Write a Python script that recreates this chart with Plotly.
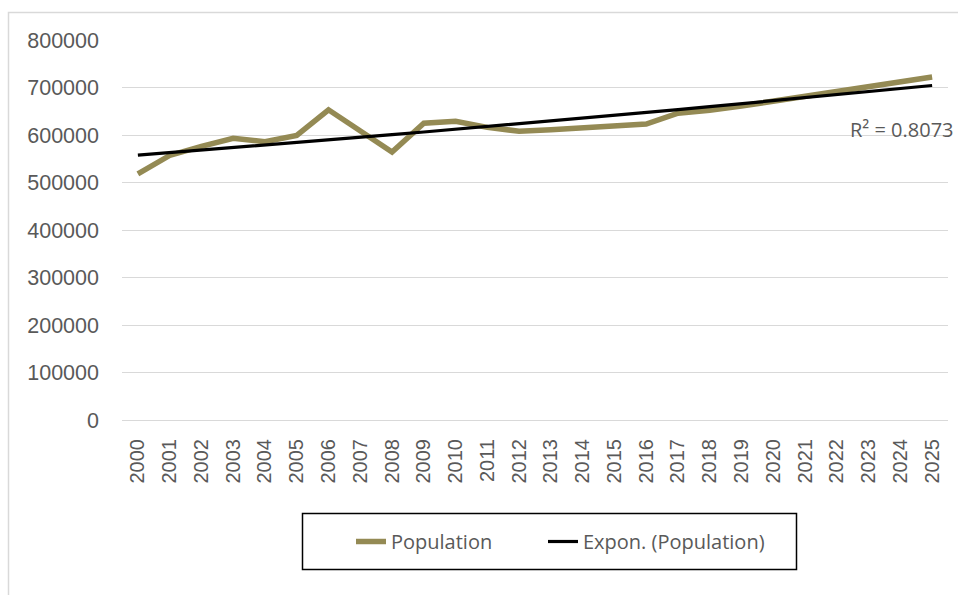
import numpy as np
import plotly.graph_objects as go

years = [str(y) for y in range(2000, 2026)]
population = [518000, 557000, 576000, 593000, 586000, 599000, 653000, 609000,
              564000, 625000, 629000, 616000, 608000, 611000, 615000, 618000,
              623000, 646000, 652000, 661000, 671000, 682000, 692000, 702000,
              712000, 722000]
r2_label = "R² = 0.8073"

# Exponential trendline (least squares on log values, like Excel's "Expon.")
xi = np.arange(1, len(population) + 1)
b, a = np.polyfit(xi, np.log(population), 1)
trend = np.exp(a + b * xi)

W, H = 958, 595
L, R, T, B = 122, 10, 40, 175
pw, ph = W - L - R, H - T - B

def px(x):
    return (x - L) / pw

def py(y):
    return (H - B - y) / ph

fig = go.Figure()
fig.add_trace(go.Scatter(x=years, y=population, mode="lines", name="Population",
                         line=dict(color="#948A54", width=5.5), legend="legend"))
fig.add_trace(go.Scatter(x=years, y=trend, mode="lines", name="Expon. (Population)",
                         line=dict(color="#000000", width=3.2), legend="legend2"))

legfont = dict(family="Open Sans, sans-serif", size=20, color="#595959")
fig.update_layout(
    width=W, height=H,
    margin=dict(l=L, r=R, t=T, b=B),
    paper_bgcolor="white", plot_bgcolor="white",
    font=dict(family="Liberation Sans, Arial, sans-serif", size=20, color="#595959"),
    showlegend=True,
    legend=dict(orientation="h", x=px(351), xanchor="left", y=py(541.5), yanchor="middle",
                font=legfont, bgcolor="rgba(0,0,0,0)", borderwidth=0),
    legend2=dict(orientation="h", x=px(543), xanchor="left", y=py(541.5), yanchor="middle",
                 font=legfont, bgcolor="rgba(0,0,0,0)", borderwidth=0),
    xaxis=dict(type="category", range=[-0.5, 25.5], showgrid=False, showline=False,
               zeroline=False, tickangle=-90, ticks="", ticklabelstandoff=14,
               tickfont=dict(family="Liberation Sans, Arial, sans-serif", size=20, color="#595959")),
    yaxis=dict(range=[0, 800000], dtick=100000, tickformat="d",
               showgrid=True, gridcolor="#D9D9D9", gridwidth=1.3,
               zeroline=True, zerolinecolor="#D9D9D9", zerolinewidth=1.3,
               showline=False, ticks="", ticklabelstandoff=22,
               tickfont=dict(family="Liberation Sans, Arial, sans-serif", size=21.5, color="#595959")),
    shapes=[
        dict(type="rect", xref="paper", yref="paper",
             x0=px(8.5), x1=px(975), y0=py(615), y1=py(12.5),
             line=dict(color="#D9D9D9", width=1.5), fillcolor="rgba(0,0,0,0)", layer="below"),
        dict(type="rect", xref="paper", yref="paper",
             x0=px(302.5), x1=px(796.5), y0=py(569.5), y1=py(513.5),
             line=dict(color="#000000", width=1.5), fillcolor="rgba(0,0,0,0)"),
    ],
    annotations=[
        dict(text=r2_label, xref="paper", yref="paper", x=px(848), y=py(129),
             xanchor="left", yanchor="middle", showarrow=False,
             font=dict(family="Open Sans, sans-serif", size=20, color="#595959")),
    ],
)

fig.write_html("out.html", config={"displayModeBar": False},
               post_script="document.body.style.margin='0';document.body.style.padding='0';")
